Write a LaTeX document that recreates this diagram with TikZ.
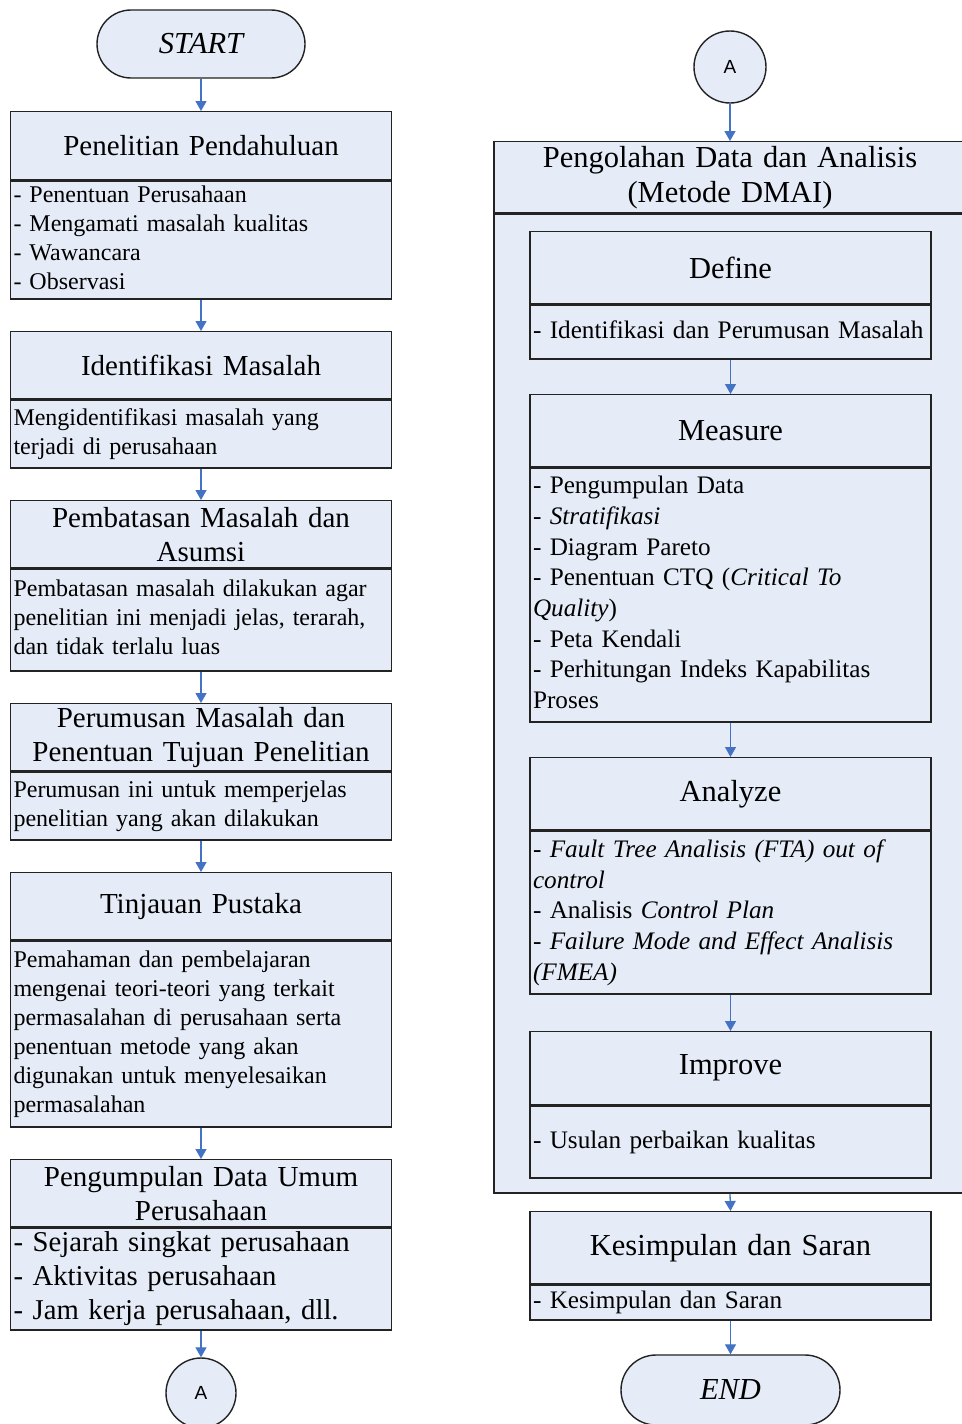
\documentclass[tikz,border=0pt]{standalone}
\usepackage{fontspec}
\setmainfont{Liberation Serif}
\newfontfamily\sansA{Liberation Sans}
\usetikzlibrary{arrows.meta,shapes.misc}
\definecolor{boxfill}{RGB}{229,236,247}
\definecolor{boxline}{RGB}{35,35,35}
\definecolor{arrblue}{RGB}{68,114,196}
\tikzset{
 ttl/.style={draw=boxline, fill=boxfill, line width=1.4pt, inner xsep=3pt, inner ysep=0pt, align=center, anchor=north, font=\fontsize{29}{34}\selectfont},
 rttl/.style={ttl, font=\fontsize{30.5}{35}\selectfont},
 bdy/.style={draw=boxline, fill=boxfill, line width=1.4pt, inner xsep=3pt, inner ysep=0pt, align=left, anchor=north, font=\fontsize{24}{29}\selectfont},
 rbdy/.style={bdy, font=\fontsize{25.2}{30.7}\selectfont},
 arr/.style={draw=arrblue, line width=1.3pt, -{Triangle[length=10pt,width=11pt]}},
 term/.style={rounded rectangle, draw=boxline, fill=boxfill, line width=1.4pt, inner sep=0pt, font=\fontsize{30.5}{32}\selectfont\itshape},
 conn/.style={circle, draw=boxline, fill=boxfill, line width=1.4pt, inner sep=0pt, font=\sansA\fontsize{19}{20}\selectfont},
}
\begin{document}
\begin{tikzpicture}[x=1pt,y=1pt]
\useasboundingbox (0,0) rectangle (961,-1424);
\fill[white] (0,0) rectangle (961,-1424);
% ---------------- left column ----------------
\node[term, minimum width=208pt, minimum height=68pt] (start) at (201,-44) {START};
\node[ttl, text width=375pt, minimum height=68pt] (b1t) at (201,-111) {Penelitian Pendahuluan};
\node[bdy, text width=375pt, minimum height=118pt] (b1b) at (b1t.south) {\strut- Penentuan Perusahaan\\\strut- Mengamati masalah kualitas\\\strut- Wawancara\\\strut- Observasi};
\node[ttl, text width=375pt, minimum height=67pt] (b2t) at (201,-331) {Identifikasi Masalah};
\node[bdy, text width=375pt, minimum height=68pt] (b2b) at (b2t.south) {\strut Mengidentifikasi masalah yang\\\strut terjadi di perusahaan};
\node[ttl, text width=375pt, minimum height=67pt] (b3t) at (201,-500) {Pembatasan Masalah dan\\Asumsi};
\node[bdy, text width=375pt, minimum height=102pt] (b3b) at (b3t.south) {\strut Pembatasan masalah dilakukan agar\\\strut penelitian ini menjadi jelas, terarah,\\\strut dan tidak terlalu luas};
\node[ttl, text width=375pt, minimum height=67pt] (b4t) at (201,-703) {Perumusan Masalah dan\\Penentuan Tujuan Penelitian};
\node[bdy, text width=375pt, minimum height=68pt] (b4b) at (b4t.south) {\strut Perumusan ini untuk memperjelas\\\strut penelitian yang akan dilakukan};
\node[ttl, text width=375pt, minimum height=67pt] (b5t) at (201,-872) {Tinjauan Pustaka};
\node[bdy, text width=375pt, minimum height=186pt] (b5b) at (b5t.south) {\strut Pemahaman dan pembelajaran\\\strut mengenai teori-teori yang terkait\\\strut permasalahan di perusahaan serta\\\strut penentuan metode yang akan\\\strut digunakan untuk menyelesaikan\\\strut permasalahan};
\node[ttl, text width=375pt, minimum height=67pt] (b6t) at (201,-1159) {Pengumpulan Data Umum\\Perusahaan};
\node[bdy, text width=375pt, minimum height=102pt, font=\fontsize{28.7}{34}\selectfont] (b6b) at (b6t.south) {\strut- Sejarah singkat perusahaan\\\strut- Aktivitas perusahaan\\\strut- Jam kerja perusahaan, dll.};
\node[conn, minimum size=70pt] (aL) at (201,-1393) {A};
\draw[arr] (start.south) -- (b1t.north);
\draw[arr] (b1b.south) -- (b2t.north);
\draw[arr] (b2b.south) -- (b3t.north);
\draw[arr] (b3b.south) -- (b4t.north);
\draw[arr] (b4b.south) -- (b5t.north);
\draw[arr] (b5b.south) -- (b6t.north);
\draw[arr] (b6b.south) -- (aL.north);
% ---------------- right column ----------------
\node[conn, minimum size=72pt] (aR) at (730,-67) {A};
\node[rttl, text width=466pt, minimum height=71pt] (ot) at (730,-141) {Pengolahan Data dan Analisis\\(Metode DMAI)};
\node[bdy, text width=466pt, minimum height=979pt] (ob) at (ot.south) {};
\node[rttl, text width=395pt, minimum height=72pt] (dt) at (730.5,-231) {Define};
\node[rbdy, text width=395pt, minimum height=54pt] (db) at (dt.south) {\strut- Identifikasi dan Perumusan Masalah};
\node[rttl, text width=395pt, minimum height=72pt] (mt) at (730.5,-394) {Measure};
\node[rbdy, text width=395pt, minimum height=254pt] (mb) at (mt.south) {\strut- Pengumpulan Data\\\strut- \textit{Stratifikasi}\\\strut- Diagram Pareto\\\strut- Penentuan CTQ (\textit{Critical To}\\\strut\textit{Quality})\\\strut- Peta Kendali\\\strut- Perhitungan Indeks Kapabilitas\\\strut Proses};
\node[rttl, text width=395pt, minimum height=72pt] (at) at (730.5,-757) {Analyze};
\node[rbdy, text width=395pt, minimum height=163pt] (ab) at (at.south) {\strut\textit{- Fault Tree Analisis (FTA) out of}\\\strut\textit{control}\\\strut- Analisis \textit{Control Plan}\\\strut\textit{- Failure Mode and Effect Analisis}\\\strut\textit{(FMEA)}};
\node[rttl, text width=395pt, minimum height=73pt] (it) at (730.5,-1031) {Improve};
\node[rbdy, text width=395pt, minimum height=72pt] (ib) at (it.south) {\strut- Usulan perbaikan kualitas};
\node[rttl, text width=395pt, minimum height=72pt] (kt) at (730.5,-1211) {Kesimpulan dan Saran};
\node[rbdy, text width=395pt, minimum height=35pt] (kb) at (kt.south) {\strut- Kesimpulan dan Saran};
\node[term, minimum width=219pt, minimum height=70pt] (end) at (730.5,-1390) {END};
\draw[arr] (aR.south) -- (ot.north);
\draw[arr] (db.south) -- (mt.north);
\draw[arr] (mb.south) -- (at.north);
\draw[arr] (ab.south) -- (it.north);
\draw[arr] (ob.south) -- (kt.north);
\draw[arr] (kb.south) -- (end.north);
\end{tikzpicture}
\end{document}
